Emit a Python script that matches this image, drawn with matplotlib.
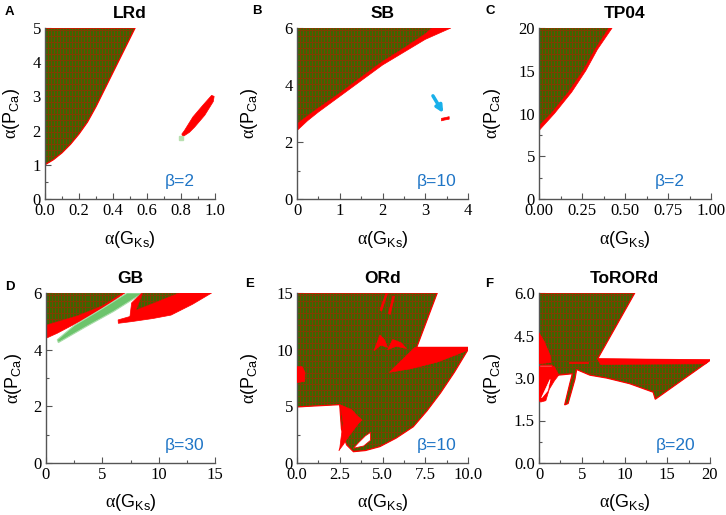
import matplotlib
matplotlib.use("Agg")
import numpy as np
import matplotlib.pyplot as plt
from matplotlib.ticker import MultipleLocator, FormatStrFormatter

plt.rcParams['font.family'] = ['Liberation Serif', 'DejaVu Serif']
plt.rcParams['mathtext.fontset'] = 'custom'
plt.rcParams['mathtext.rm'] = 'Liberation Serif'
SANS = ['Liberation Sans', 'DejaVu Sans']

# ---------------- data ----------------
panel_titles = ["LRd", "SB", "TP04", "GB", "ORd", "ToRORd"]
panel_letters = ["A", "B", "C", "D", "E", "F"]
beta_values = [2, 10, 2, 30, 10, 20]
x_limits = [1.0, 4.0, 1.0, 15.0, 10.0, 20.0]
y_limits = [5.0, 6.0, 20.0, 6.0, 15.0, 6.0]
x_major = [0.2, 1.0, 0.25, 5.0, 2.5, 5.0]
y_major = [1.0, 2.0, 5.0, 2.0, 5.0, 1.5]
x_fmt = ["%.1f", "%d", "%.2f", "%d", "%.1f", "%d"]
y_fmt = ["%d", "%d", "%d", "%d", "%d", "%.1f"]

# A: LRd
lrd_green_gks = [0, 0.05, 0.10, 0.15, 0.20, 0.25, 0.30, 0.35, 0.40, 0.45, 0.50, 0.53, 0]
lrd_green_pca = [1.0, 1.15, 1.35, 1.6, 1.9, 2.25, 2.7, 3.2, 3.7, 4.2, 4.7, 5.0, 5.0]
lrd_red_gks = [0.81, 0.85, 0.88, 0.94, 0.99, 0.995, 0.98, 0.93, 0.87, 0.82, 0.805]
lrd_red_pca = [1.82, 1.95, 2.1, 2.45, 2.85, 3.0, 3.03, 2.75, 2.4, 2.0, 1.9]
lrd_dot = (0.80, 1.78)

# B: SB
sb_red_gks = [0, 0.25, 0.5, 1.0, 1.5, 2.0, 2.5, 3.0, 3.3, 3.6, 0]
sb_red_pca = [2.4, 2.75, 3.05, 3.6, 4.15, 4.7, 5.15, 5.6, 5.8, 6.0, 6.0]
sb_green_gks = [0, 0.5, 1.0, 1.5, 2.0, 2.5, 3.0, 3.15, 0]
sb_green_pca = [2.65, 3.2, 3.72, 4.28, 4.83, 5.3, 5.8, 6.0, 6.0]
sb_spot_gks = [3.38, 3.38, 3.48, 3.56, 3.56, 3.45]
sb_spot_pca = [2.74, 2.83, 2.86, 2.89, 2.80, 2.77]
sb_arrow_from = (3.18, 3.62)
sb_arrow_to = (3.42, 3.02)

# C: TP04
tp_red_gks = [0, 0.09, 0.19, 0.272, 0.34, 0.425, 0]
tp_red_pca = [8.0, 10.0, 12.5, 15.0, 17.5, 20.0, 20.0]
tp_green_gks = [0, 0.07, 0.17, 0.255, 0.325, 0.405, 0]
tp_green_pca = [8.6, 10.0, 12.5, 15.0, 17.5, 20.0, 20.0]

# D: GB
gb_red1_gks = [0, 1.0, 3.0, 5.0, 7.0, 6.8, 0]
gb_red1_pca = [4.4, 4.58, 5.0, 5.45, 6.0, 6.0, 5.0]
gb_green_gks = [0, 6.8, 5.0, 2.8, 0]
gb_green_pca = [6.0, 6.0, 5.55, 5.2, 4.87]
gb_light_gks = [1.0, 1.1, 3.5, 6.0, 8.6, 7.2, 5.0, 2.5]
gb_light_pca = [4.35, 4.25, 4.8, 5.35, 6.0, 6.0, 5.45, 4.85]
gb_red2_gks = [6.42, 7.6, 9.5, 11.1, 13.0, 14.7, 8.5, 7.6, 7.45, 6.4]
gb_red2_pca = [4.93, 4.99, 5.1, 5.22, 5.6, 6.0, 6.0, 5.65, 5.17, 5.05]
gb_green2_gks = [8.6, 11.8, 8.0]
gb_green2_pca = [6.0, 6.0, 5.4]

# E: ORd
ord_green_gks = [0, 8.2, 7.0, 10.0, 10.0, 9.2, 8.4, 7.6, 6.8, 5.8, 4.85, 4.0, 3.3, 2.9, 2.6, 2.5, 0]
ord_green_pca = [15, 15, 10.2, 10.2, 10.0, 8.0, 6.2, 4.6, 3.2, 2.2, 1.45, 1.1, 1.0, 1.6, 3.0, 5.15, 4.95]
ord_red_lobe_gks = [2.5, 3.2, 3.5, 3.8, 3.6, 3.3, 3.0, 2.7, 2.45, 2.5, 2.6, 2.7, 2.6]
ord_red_lobe_pca = [5.15, 4.7, 4.2, 3.8, 3.5, 2.9, 2.3, 1.6, 1.1, 1.3, 2.5, 3.5, 4.5]
ord_hole_gks = [3.3, 3.9, 4.3, 4.3, 4.0, 3.6]
ord_hole_pca = [1.3, 1.5, 2.0, 2.7, 2.4, 1.8]
ord_red_edge_gks = [0, 0.45, 0.47, 0.3, 0]
ord_red_edge_pca = [7.1, 7.2, 8.0, 8.5, 8.5]
ord_red_wedge_gks = [5.4, 6.9, 10.0, 9.9, 8.2, 6.6]
ord_red_wedge_pca = [8.0, 10.2, 10.2, 9.9, 8.9, 8.3]
ord_notch1_gks = [4.5, 4.85, 5.1, 5.3, 4.9]
ord_notch1_pca = [9.9, 11.3, 10.9, 10.2, 10.4]
ord_notch2_gks = [5.3, 5.6, 6.1, 6.4, 5.8]
ord_notch2_pca = [10.0, 10.9, 10.6, 10.1, 10.3]
ord_streak1_gks = [4.85, 5.2, 5.3, 4.95]
ord_streak1_pca = [13.5, 15.0, 15.0, 13.4]
ord_streak2_gks = [5.35, 5.6, 5.7, 5.45]
ord_streak2_pca = [13.2, 14.7, 14.7, 13.1]

# F: ToRORd
tor_green_gks = [0, 11.2, 6.85, 20.0, 13.6, 13.35, 10.6, 7.9, 5.96, 4.4, 4.2, 3.4, 3.0, 3.6, 3.9, 2.2, 1.5, 0]
tor_green_pca = [6.0, 6.0, 3.67, 3.62, 2.25, 2.5, 2.8, 3.0, 3.1, 3.3, 2.95, 2.1, 2.05, 2.8, 3.15, 3.1, 3.45, 3.45]
tor_red_up_gks = [0, 0.6, 1.3, 1.4, 0]
tor_red_up_pca = [4.6, 4.3, 3.8, 3.55, 3.5]
tor_red_low_gks = [0, 1.8, 2.3, 1.8, 1.2, 0.8, 0.2, 0]
tor_red_low_pca = [3.4, 3.4, 3.1, 2.9, 2.6, 2.2, 2.15, 2.2]
tor_white_gks = [0.3, 1.3, 1.0]
tor_white_pca = [2.3, 2.95, 2.55]
tor_band_gks = [6.85, 20.0, 19.5, 7.2]
tor_band_pca = [3.68, 3.65, 3.5, 3.48]
tor_dash_gks = [3.6, 5.7]
tor_dash_pca = [3.52, 3.52]

# ---------------- styling ----------------
RED = '#ff0000'
BLUE = '#1f75c6'
LIGHT = '#6cc46c'
BASE_RGB = (0.24, 0.40, 0.0)
LINE_RGB = (0.50, 0.24, 0.0)

fig = plt.figure(figsize=(7.26, 5.15), dpi=100)
W, H = 726.0, 515.0
boxes = [(45, 28, 215, 199), (297, 28, 468, 199), (539, 28, 711, 199),
         (46, 293, 215, 463), (297, 293, 468, 463), (539, 293, 710, 463)]
ylab_x = [-0.195, -0.275, -0.27, -0.195, -0.275, -0.27]
beta_x = [0.705, 0.70, 0.675, 0.70, 0.70, 0.68]
letter_pos = [(5, 15), (252, 14), (485, 14), (5, 290), (245, 287), (485, 287)]


def make_texture(nr, nc):
    tex = np.empty((nr, nc, 3))
    tex[:] = BASE_RGB
    tex[:, ::3, :] = LINE_RGB
    tex[::6, :, :] = LINE_RGB
    return tex


axes = []
for i, (l, t, r, b) in enumerate(boxes):
    ax = fig.add_axes([l / W, 1 - b / H, (r - l) / W, (b - t) / H])
    axes.append(ax)
    ax.set_xlim(0, x_limits[i])
    ax.set_ylim(0, y_limits[i])
    for s in ['top', 'right']:
        ax.spines[s].set_visible(False)
    for s in ['left', 'bottom']:
        ax.spines[s].set_color('#555555')
        ax.spines[s].set_linewidth(1.0)
    ax.xaxis.set_major_locator(MultipleLocator(x_major[i]))
    ax.xaxis.set_minor_locator(MultipleLocator(x_major[i] / 2))
    ax.yaxis.set_major_locator(MultipleLocator(y_major[i]))
    ax.yaxis.set_minor_locator(MultipleLocator(y_major[i] / 2))
    ax.xaxis.set_major_formatter(FormatStrFormatter(x_fmt[i]))
    ax.yaxis.set_major_formatter(FormatStrFormatter(y_fmt[i]))
    ax.tick_params(which='both', direction='in', color='#555555', width=0.8,
                   labelsize=12)
    ax.tick_params(axis='x', which='major', length=4, pad=3)
    ax.tick_params(axis='y', which='major', length=4, pad=3)
    ax.tick_params(which='minor', length=2.5)
    ax.set_xlabel(r'$\mathrm{\alpha}$(G$_{\mathregular{Ks}}$)', fontsize=13, family=SANS)
    ax.set_ylabel(r'$\mathrm{\alpha}$(P$_{\mathregular{Ca}}$)', fontsize=13, family=SANS)
    ax.xaxis.set_label_coords(0.5, -0.235)
    ax.xaxis.label.set_va('center')
    ax.yaxis.set_label_coords(ylab_x[i], 0.5)
    ax.yaxis.label.set_va('center')
    ax.set_title(panel_titles[i], fontsize=12.5, fontweight='bold', pad=7, family=SANS)
    ax.text(beta_x[i], 0.075, 'β=%d' % beta_values[i], transform=ax.transAxes,
            color=BLUE, fontsize=12.5, ha='left', va='baseline', family=SANS)
    lx, ly = letter_pos[i]
    fig.text(lx / W, 1 - ly / H, panel_letters[i], fontsize=9.5, fontweight='bold',
             ha='left', va='baseline', family=SANS)


def green(ax, x, y, lw=0.9, z=2):
    poly = ax.fill(x, y, facecolor=BASE_RGB, edgecolor='none', zorder=z)[0]
    xl, yl = ax.get_xlim(), ax.get_ylim()
    im = ax.imshow(make_texture(171, 171), extent=(xl[0], xl[1], yl[0], yl[1]),
                   aspect='auto', interpolation='nearest', origin='lower', zorder=z + 0.05)
    im.set_clip_path(poly)
    ax.fill(x, y, facecolor='none', edgecolor=RED, lw=lw, zorder=z + 0.1)
    ax.set_xlim(xl)
    ax.set_ylim(yl)


def red(ax, x, y, z=3):
    ax.fill(x, y, facecolor=RED, edgecolor=RED, lw=0.5, zorder=z)


# A
ax = axes[0]
green(ax, lrd_green_gks, lrd_green_pca)
red(ax, lrd_red_gks, lrd_red_pca)
ax.plot([lrd_dot[0]], [lrd_dot[1]], 's', color='#b8e0b0', ms=3, zorder=4)

# B
ax = axes[1]
red(ax, sb_red_gks, sb_red_pca, z=1)
green(ax, sb_green_gks, sb_green_pca, lw=0.3)
red(ax, sb_spot_gks, sb_spot_pca)
ax.annotate('', xy=sb_arrow_to, xytext=sb_arrow_from,
            arrowprops=dict(arrowstyle='-|>', color='#19b0ea', lw=2.5,
                            mutation_scale=10, shrinkA=0, shrinkB=0))

# C
ax = axes[2]
red(ax, tp_red_gks, tp_red_pca, z=1)
green(ax, tp_green_gks, tp_green_pca, lw=0.3)

# D
ax = axes[3]
red(ax, gb_red1_gks, gb_red1_pca, z=1)
green(ax, gb_green_gks, gb_green_pca, lw=0.3)
ax.fill(gb_light_gks, gb_light_pca, facecolor=LIGHT, edgecolor='#a8dca8', lw=0.8, zorder=3)
red(ax, gb_red2_gks, gb_red2_pca, z=3.5)
green(ax, gb_green2_gks, gb_green2_pca, lw=0.3, z=4)

# E
ax = axes[4]
green(ax, ord_green_gks, ord_green_pca)
for gx, py in [(ord_red_lobe_gks, ord_red_lobe_pca), (ord_red_edge_gks, ord_red_edge_pca),
               (ord_red_wedge_gks, ord_red_wedge_pca), (ord_notch1_gks, ord_notch1_pca),
               (ord_notch2_gks, ord_notch2_pca), (ord_streak1_gks, ord_streak1_pca),
               (ord_streak2_gks, ord_streak2_pca)]:
    red(ax, gx, py)
ax.fill(ord_hole_gks, ord_hole_pca, facecolor='white', edgecolor=RED, lw=0.6, zorder=4)

# F
ax = axes[5]
green(ax, tor_green_gks, tor_green_pca)
red(ax, tor_red_up_gks, tor_red_up_pca)
red(ax, tor_red_low_gks, tor_red_low_pca)
ax.fill(tor_white_gks, tor_white_pca, facecolor='white', edgecolor='white', lw=0.5, zorder=4)
red(ax, tor_band_gks, tor_band_pca)
ax.plot(tor_dash_gks, tor_dash_pca, color=RED, lw=1.2, zorder=4)

fig.savefig('out.png', dpi=100)
